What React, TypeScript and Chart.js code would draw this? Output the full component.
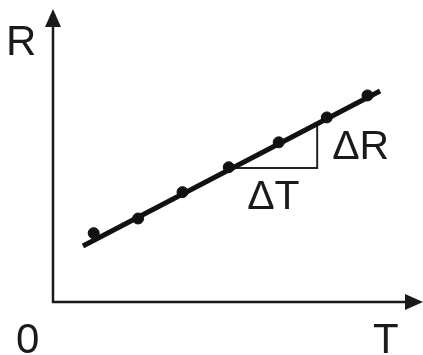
import React, { useEffect, useRef } from "react";
import { Chart, registerables } from "chart.js";

Chart.register(...registerables);

// measured points (T, R)
const T_VALUES = [1.1, 2.3, 3.5, 4.75, 6.1, 7.4, 8.5];
const R_VALUES = [2.35, 2.85, 3.75, 4.6, 5.45, 6.3, 7.05];

// fitted straight line end points
const FIT_T = [0.81, 8.84];
const FIT_R = [1.91, 7.2];

// slope triangle corners
const TRI_T = [4.76, 7.14, 7.14];
const TRI_R = [4.57, 4.57, 6.1];

const AXIS_MAX_T = 10;
const AXIS_MAX_R = 10;

const FONT = "'Liberation Sans', Arial, sans-serif";

const annotationPlugin = {
  id: "axesAndLabels",
  afterDatasetsDraw(chart: any) {
    const { ctx, chartArea } = chart;
    const { left, right, top, bottom } = chartArea;
    const xs = chart.scales.x;
    const ys = chart.scales.y;
    ctx.save();
    ctx.strokeStyle = "#1a1a1a";
    ctx.fillStyle = "#1a1a1a";
    ctx.lineWidth = 2.5;
    // y axis
    ctx.beginPath();
    ctx.moveTo(left, bottom + 1);
    ctx.lineTo(left, top + 12);
    ctx.stroke();
    ctx.beginPath();
    ctx.moveTo(left, top);
    ctx.lineTo(left - 8, top + 18);
    ctx.lineTo(left + 8, top + 18);
    ctx.closePath();
    ctx.fill();
    // x axis
    ctx.beginPath();
    ctx.moveTo(left - 1, bottom);
    ctx.lineTo(right - 12, bottom);
    ctx.stroke();
    ctx.beginPath();
    ctx.moveTo(right, bottom);
    ctx.lineTo(right - 18, bottom - 8);
    ctx.lineTo(right - 18, bottom + 8);
    ctx.closePath();
    ctx.fill();

    // labels
    ctx.textBaseline = "alphabetic";
    ctx.textAlign = "left";
    ctx.font = `42px ${FONT}`;
    ctx.fillText("R", left - 47, top + 46);
    ctx.fillText("0", left - 37, bottom + 51);
    ctx.fillText("T", right - 50, bottom + 51);

    ctx.font = `41px ${FONT}`;
    ctx.fillText("\u0394R", xs.getPixelForValue(TRI_T[1]) + 15, ys.getPixelForValue(TRI_R[0]) - 9);
    ctx.fillText("\u0394T", xs.getPixelForValue((TRI_T[0] + TRI_T[1]) / 2) - 26, ys.getPixelForValue(TRI_R[0]) + 41);
    ctx.restore();
  },
};

export default function App() {
  const ref = useRef<HTMLCanvasElement | null>(null);
  useEffect(() => {
    if (!ref.current) return;
    const chart = new Chart(ref.current, {
      type: "scatter",
      data: {
        datasets: [
          {
            type: "line",
            data: FIT_T.map((t, i) => ({ x: t, y: FIT_R[i] })),
            borderColor: "#111",
            borderWidth: 5,
            pointRadius: 0,
            borderCapStyle: "butt",
          } as any,
          {
            type: "line",
            data: TRI_T.map((t, i) => ({ x: t, y: TRI_R[i] })),
            borderColor: "#222",
            borderWidth: 2,
            pointRadius: 0,
            fill: false,
          } as any,
          {
            type: "scatter",
            data: T_VALUES.map((t, i) => ({ x: t, y: R_VALUES[i] })),
            backgroundColor: "#111",
            borderColor: "#111",
            pointRadius: 5.5,
          },
        ],
      },
      options: {
        responsive: false,
        animation: false,
        layout: { autoPadding: false, padding: { left: 53, right: 0, top: 9, bottom: 53 } },
        plugins: { legend: { display: false }, tooltip: { enabled: false } },
        scales: {
          x: { type: "linear", min: 0, max: AXIS_MAX_T, display: false },
          y: { type: "linear", min: 0, max: AXIS_MAX_R, display: false },
        },
      },
      plugins: [annotationPlugin],
    });
    return () => chart.destroy();
  }, []);
  return (
    <div style={{ position: "fixed", left: 0, top: 0, width: 423, height: 355, background: "#fff" }}>
      <canvas ref={ref} width={423} height={355} style={{ display: "block" }} />
    </div>
  );
}
